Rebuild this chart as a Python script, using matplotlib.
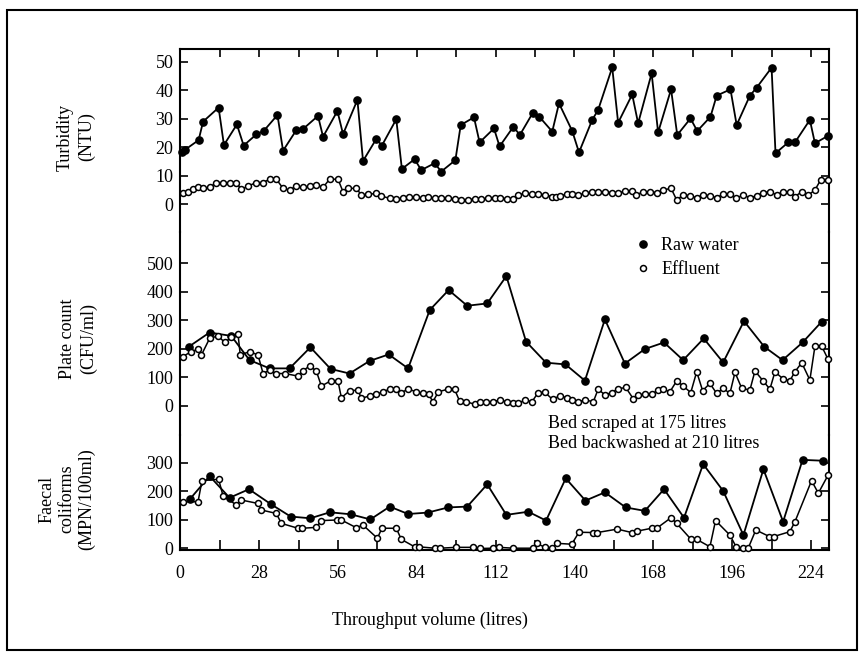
import matplotlib
matplotlib.use("Agg")
import matplotlib.pyplot as plt
from matplotlib.lines import Line2D
from matplotlib.patches import Rectangle
from matplotlib.ticker import FixedLocator, FuncFormatter

# ---------------- data ----------------
# Turbidity (NTU)
turb_raw_x = [0.5, 1.5, 6.5, 8.1, 13.6, 15.5, 20.1, 22.5, 27.0, 29.6, 34.5, 36.5, 41.2, 43.6,
              48.9, 50.7, 55.8, 57.8, 62.9, 64.9, 69.6, 71.6, 76.7, 78.7, 83.2, 85.6, 90.3, 92.7,
              97.7, 99.6, 104.3, 106.3, 111.4, 113.4, 118.3, 120.6, 125.1, 127.5, 132.1, 134.5,
              139.2, 141.6, 146.3, 148.4, 153.4, 155.5, 160.5, 162.6, 167.4, 169.7, 174.3, 176.5,
              181.2, 183.6, 188.3, 190.5, 195.4, 197.6, 202.3, 204.7, 210.0, 211.4, 215.9, 218.3,
              223.6, 225.4, 230.2]
turb_raw = [18.5, 19, 22.5, 29, 33.9, 20.8, 28, 20.6, 24.5, 25.7, 31.3, 18.8, 26, 26.4,
            31, 23.7, 32.7, 24.6, 36.6, 15.2, 22.9, 20.6, 29.8, 12.4, 15.8, 12, 14.4, 11.5,
            15.5, 27.8, 30.5, 21.7, 26.6, 20.3, 27.2, 24.3, 31.9, 30.7, 25.5, 35.4,
            25.7, 18.2, 29.6, 33.1, 48, 28.6, 38.5, 28.4, 45.9, 25.2, 40.3, 24.3,
            30.1, 25.7, 30.7, 38.1, 40.3, 27.8, 38.1, 40.9, 47.9, 17.9, 21.7, 21.7,
            29.6, 21.4, 24.1]
turb_eff_x = [0.96, 2.7, 4.5, 6.3, 8.1, 10.4, 12.8, 15.2, 17.5, 19.9, 21.7, 24.0, 27.0, 29.4,
              31.7, 34.1, 36.5, 38.8, 41.2, 43.6, 45.9, 48.3, 50.7, 53.0, 56.0, 57.8, 59.6, 62.5,
              64.3, 66.7, 69.6, 71.4, 74.3, 76.7, 79.1, 81.4, 83.8, 86.2, 87.9, 90.3, 92.7, 95.1,
              97.4, 99.8, 102.2, 104.5, 106.9, 109.3, 111.6,
              113.5, 115.9, 118.3, 120.0, 122.4, 124.8, 127.1, 129.5, 131.9, 133.6, 134.8, 137.2,
              139.0, 141.4, 143.7, 146.1, 148.4, 150.8, 153.2, 155.5, 157.9, 160.3, 162.0, 164.4,
              166.8, 169.2, 171.5, 174.3, 176.3, 178.6, 181.0, 183.4, 185.7, 188.1, 190.5, 192.8,
              195.2, 197.5, 199.9, 202.3, 204.7, 207.0, 209.4, 211.8, 214.1, 216.5, 218.3, 220.7,
              223.1, 225.4, 227.4, 230.0]
turb_eff = [3.8, 4.4, 5.4, 6.2, 5.6, 5.9, 7.6, 7.6, 7.6, 7.6, 5.2, 6.4, 7.6, 7.6,
            8.8, 8.8, 5.6, 5.0, 6.4, 5.9, 6.4, 6.8, 5.9, 8.8, 8.8, 4.4, 5.6, 5.6,
            3.3, 3.5, 3.8, 2.9, 2.1, 1.9, 2.1, 2.4, 2.4, 2.3, 2.7, 2.1, 2.1, 2.1,
            1.9, 1.5, 1.5, 1.9, 1.9, 2.1, 2.1,
            2.3, 1.9, 1.7, 3.3, 3.8, 3.5, 3.5, 3.3, 2.7, 2.7, 3.0, 3.5,
            3.5, 3.3, 3.8, 4.4, 4.4, 4.4, 4.1, 3.8, 4.7, 4.7, 3.3, 4.4,
            4.4, 4.1, 5.0, 5.6, 1.5, 3.3, 3.0, 2.3, 3.3, 3.0, 2.3, 3.5,
            3.5, 2.1, 3.3, 2.3, 3.0, 4.1, 4.4, 3.3, 4.4, 4.4, 2.7, 4.4,
            3.3, 5.0, 8.5, 8.5]

# Plate count (CFU/ml)
plate_raw_x = [3.0, 10.4, 18.1, 24.6, 31.7, 38.8, 46.2, 53.4, 60.1, 67.2, 74.0, 80.9, 88.6,
               95.3, 101.9, 109.0, 115.8, 122.8, 129.9, 136.8, 143.7, 150.8, 157.9, 165.0,
               171.8, 178.6, 185.9, 192.8, 200.2, 207.4, 213.9, 221.0, 227.8]
plate_raw = [207, 257, 245, 160, 131, 131, 205, 129, 113, 157, 180, 131, 336,
             406, 351, 359, 455, 225, 151, 145, 88, 303, 148, 199,
             222, 160, 236, 152, 297, 207, 160, 222, 295]
plate_eff_x = [0.8, 3.9, 6.3, 7.5, 10.4, 13.4, 15.8, 18.1, 20.5, 21.3, 24.6, 27.6, 29.4, 31.7,
               34.1, 37.1, 41.8, 43.6, 45.9, 48.3, 50.1, 53.4, 56.0, 57.2, 60.1, 63.1, 64.3,
               67.2, 69.6, 72.0, 74.3, 76.7, 78.5, 80.9, 83.8, 86.2, 88.2, 89.7, 91.7, 95.1,
               97.4, 99.2, 101.6, 104.5, 106.3, 108.7, 111.0,
               113.5, 115.9, 118.3, 120.0, 122.4, 124.9, 127.1, 129.5, 132.2, 134.8, 137.2,
               139.0, 141.4, 143.7, 146.7, 148.4, 150.8, 153.2, 155.5, 158.2, 160.9, 162.6,
               165.0, 167.4, 169.7, 171.5, 173.9, 176.3, 178.6, 181.3, 183.4, 185.5, 188.1,
               190.5, 192.8, 195.2, 197.0, 199.4, 202.3, 204.1, 207.0, 209.4, 211.2, 214.1,
               216.5, 218.3, 220.7, 223.6, 225.4, 227.8, 230.0]
plate_eff = [172, 190, 198, 178, 236, 245, 222, 240, 251, 178, 190, 178, 113, 125,
             113, 113, 104, 122, 140, 122, 69, 87, 87, 28, 52, 55, 26,
             34, 40, 49, 58, 58, 46, 58, 49, 43, 40, 14, 49, 58,
             58, 16, 14, 5, 14, 14, 14,
             20, 14, 8, 8, 20, 14, 46, 47, 22, 35, 28,
             20, 14, 20, 14, 58, 38, 46, 59, 64, 24, 38,
             40, 40, 55, 57, 49, 87, 69, 46, 119, 53, 78,
             43, 61, 43, 117, 61, 55, 122, 87, 58, 119, 94,
             88, 119, 151, 90, 209, 209, 164]

# Faecal coliforms (MPN/100ml)
faec_raw_x = [3.3, 10.4, 17.5, 24.4, 32.1, 39.2, 46.2, 53.1, 60.5, 67.5, 74.4, 80.9, 87.9,
              95.1, 101.9, 109.0, 115.8, 123.6, 129.9, 136.9, 143.9, 150.8, 158.2, 165.0,
              171.8, 178.9, 185.7, 192.8, 200.0, 207.1, 214.1, 221.0, 228.1]
faec_raw = [172, 254, 178, 208, 156, 112, 106, 127, 120, 102, 147, 121, 126,
            144, 147, 225, 118, 129, 98, 246, 168, 197, 144, 132,
            208, 108, 296, 202, 47, 278, 94, 311, 308]
faec_eff_x = [1.0, 6.3, 7.7, 13.6, 15.2, 19.9, 21.7, 27.6, 28.8, 34.1, 35.9, 41.8, 43.2,
              48.3, 50.1, 55.8, 57.2, 62.5, 64.9, 70.0, 71.6, 76.7, 78.5, 83.2, 84.6, 90.3,
              92.1, 98.0, 103.9, 106.3, 111.0, 113.2, 118.3, 125.2, 126.6, 129.5, 131.9,
              133.9, 139.0, 141.6, 146.4, 148.1, 155.2, 160.3, 162.3, 167.4, 169.2, 174.3,
              176.3, 181.4, 183.4, 188.1, 190.1, 195.2, 197.4, 199.7, 201.7, 204.4, 209.2,
              210.8, 216.5, 218.3, 224.2, 226.6, 230.1]
faec_eff = [164, 164, 238, 243, 184, 153, 170, 158, 135, 123, 88, 71, 71,
            74, 98, 100, 100, 73, 82, 36, 71, 71, 32, 6, 6, 1,
            1, 4, 4, 0, 1, 4, 1, 1, 18, 4, 1,
            18, 15, 57, 56, 56, 68, 56, 61, 71, 71, 108,
            88, 32, 32, 6, 98, 47, 6, 1, 1, 65, 42,
            42, 59, 94, 238, 194, 258]

x_ticks = list(range(0, 225, 14))
x_labels_every = 28
turb_ticks = [0, 10, 20, 30, 40, 50]
plate_ticks = [0, 100, 200, 300, 400, 500]
faec_ticks = [0, 100, 200, 300]

# ---------------- figure ----------------
W, H = 864, 656
plt.rcParams['font.family'] = ['Liberation Serif', 'DejaVu Serif']
plt.rcParams['font.size'] = 13
fig = plt.figure(figsize=(W / 100, H / 100), dpi=100)

left_px, right_px = 180.3, 829.3
def fbox(top_px, bot_px):
    return [left_px / W, 1 - bot_px / H, (right_px - left_px) / W, (bot_px - top_px) / H]

ax1 = fig.add_axes(fbox(49, 232))
ax2 = fig.add_axes(fbox(232, 435))
ax3 = fig.add_axes(fbox(435, 550))

XMAX = 230.5
ax1.set_ylim(-9.71, 54.45)
ax2.set_ylim(-102.9, 609.9)
ax3.set_ylim(-5.3, 398.2)

raw_kw = dict(color='black', lw=1.3, marker='o', ms=5.2, mfc='black', mec='black', clip_on=False, zorder=3)
eff_kw = dict(color='black', lw=1.1, marker='o', ms=4.3, mfc='white', mec='black', mew=1.1, clip_on=False, zorder=4)

ax1.plot(turb_eff_x, turb_eff, **eff_kw)
ax1.plot(turb_raw_x, turb_raw, **raw_kw)
ax2.plot(plate_raw_x, plate_raw, **raw_kw)
ax2.plot(plate_eff_x, plate_eff, **eff_kw)
ax3.plot(faec_raw_x, faec_raw, **raw_kw)
ax3.plot(faec_eff_x, faec_eff, **eff_kw)

for ax, yt in ((ax1, turb_ticks), (ax2, plate_ticks), (ax3, faec_ticks)):
    ax.set_xlim(0, XMAX)
    ax.set_yticks(yt)
    ax.tick_params(axis='y', direction='in', left=True, right=True, length=6, width=1.2,
                   labelsize=13, pad=5)
    for s in ('left', 'right'):
        ax.spines[s].set_linewidth(1.5)
    ax.patch.set_visible(False)

ax1.spines['bottom'].set_visible(False)
ax2.spines['top'].set_visible(False)
ax2.spines['bottom'].set_visible(False)
ax3.spines['top'].set_visible(False)
ax1.spines['top'].set_linewidth(1.5)
ax3.spines['bottom'].set_linewidth(1.5)

ax1.xaxis.set_major_locator(FixedLocator(x_ticks))
ax1.tick_params(axis='x', direction='in', top=True, bottom=False, labeltop=False,
                labelbottom=False, length=6, width=1.2)
ax2.tick_params(axis='x', top=False, bottom=False, labelbottom=False)
ax3.xaxis.set_major_locator(FixedLocator(x_ticks))
ax3.xaxis.set_major_formatter(FuncFormatter(
    lambda v, p: f"{int(round(v))}" if int(round(v)) % x_labels_every == 0 else ""))
ax3.tick_params(axis='x', direction='in', top=False, bottom=True, length=7, width=1.2,
                labelsize=13, pad=11)

# y-axis labels
fig.text(76 / W, 1 - 137 / H, "Turbidity\n(NTU)", rotation=90, ha='center', va='center',
         multialignment='center', fontsize=13, linespacing=1.25)
fig.text(78 / W, 1 - 339 / H, "Plate count\n(CFU/ml)", rotation=90, ha='center', va='center',
         multialignment='center', fontsize=13, linespacing=1.25)
fig.text(67 / W, 1 - 499 / H, "Faecal\ncoliforms\n(MPN/100ml)", rotation=90, ha='center',
         va='center', multialignment='center', fontsize=13, linespacing=1.2)
fig.text(430 / W, 1 - 620 / H, "Throughput volume (litres)", ha='center', va='center', fontsize=13)

# annotations
fig.text(548 / W, 1 - 423 / H, "Bed scraped at 175 litres", ha='left', va='center', fontsize=13)
fig.text(548 / W, 1 - 444 / H, "Bed backwashed at 210 litres", ha='left', va='center', fontsize=13)

# legend
handles = [Line2D([], [], ls='none', marker='o', ms=5.2, mfc='black', mec='black'),
           Line2D([], [], ls='none', marker='o', ms=4.3, mfc='white', mec='black', mew=1.1)]
fig.legend(handles, ["Raw water", "Effluent"], loc='upper left',
           bbox_to_anchor=(636 / W, 1 - 237 / H), frameon=False, fontsize=13,
           handlelength=0.8, handletextpad=0.6, labelspacing=0.38, borderpad=0, borderaxespad=0)

# outer frame
fig.patches.append(Rectangle((7 / W, 6 / H), 850 / W, 640 / H, transform=fig.transFigure,
                             fill=False, lw=1.5, ec='black'))

fig.savefig("out.png", dpi=100)
